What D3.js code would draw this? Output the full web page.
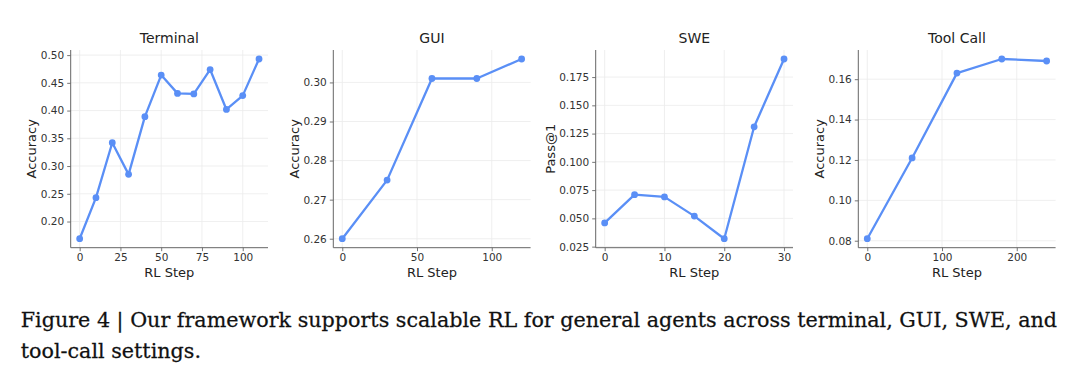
<!DOCTYPE html>
<html>
<head>
<meta charset="utf-8">
<script src="https://cdn.jsdelivr.net/npm/d3@7"></script>
<style>
  html, body { margin: 0; padding: 0; background: #ffffff; }
  svg { display: block; }
</style>
</head>
<body>
<svg id="chart" width="1080" height="374"></svg>
<script>
// ---------------- data ----------------
const panelTitles = ["Terminal", "GUI", "SWE", "Tool Call"];
const yLabels = ["Accuracy", "Accuracy", "Pass@1", "Accuracy"];
const xLabel = "RL Step";

const terminalSteps = [0, 10, 20, 30, 40, 50, 60, 70, 80, 90, 100, 110];
const terminalAcc = [0.169, 0.243, 0.342, 0.285, 0.389, 0.464, 0.431, 0.430, 0.474, 0.402, 0.427, 0.493];

const guiSteps = [0, 30, 60, 90, 120];
const guiAcc = [0.260, 0.275, 0.301, 0.301, 0.306];

const sweSteps = [0, 5, 10, 15, 20, 25, 30];
const swePass = [0.046, 0.071, 0.069, 0.052, 0.032, 0.131, 0.191];

const toolSteps = [0, 60, 120, 180, 240];
const toolAcc = [0.081, 0.121, 0.163, 0.170, 0.169];

const terminalXTicks = [0, 25, 50, 75, 100];
const terminalYTicks = [0.20, 0.25, 0.30, 0.35, 0.40, 0.45, 0.50];
const guiXTicks = [0, 50, 100];
const guiYTicks = [0.26, 0.27, 0.28, 0.29, 0.30];
const sweXTicks = [0, 10, 20, 30];
const sweYTicks = [0.025, 0.050, 0.075, 0.100, 0.125, 0.150, 0.175];
const toolXTicks = [0, 100, 200];
const toolYTicks = [0.08, 0.10, 0.12, 0.14, 0.16];

const captionLines = [
  "Figure 4 | Our framework supports scalable RL for general agents across terminal, GUI, SWE, and",
  "tool-call settings."
];

// ---------------- layout / style ----------------
const panels = [
  { xs: terminalSteps, ys: terminalAcc, xt: terminalXTicks, yt: terminalYTicks, yf: ".2f" },
  { xs: guiSteps, ys: guiAcc, xt: guiXTicks, yt: guiYTicks, yf: ".2f" },
  { xs: sweSteps, ys: swePass, xt: sweXTicks, yt: sweYTicks, yf: ".3f" },
  { xs: toolSteps, ys: toolAcc, xt: toolXTicks, yt: toolYTicks, yf: ".2f" }
];
const panelLefts = [70.7, 333.3, 595.7, 858.3];
const plotW = 197.3;
const plotTop = 50;
const plotBottom = 247.7;
const lineColor = "#5a8ff6";
const font = "DejaVu Sans, Verdana, sans-serif";

const svg = d3.select("#chart");

function padded(ext) {
  const d = ext[1] - ext[0];
  return [ext[0] - 0.05 * d, ext[1] + 0.05 * d];
}

panels.forEach((p, i) => {
  const left = panelLefts[i];
  const x = d3.scaleLinear().domain(padded(d3.extent(p.xs))).range([left, left + plotW]);
  const y = d3.scaleLinear().domain(padded(d3.extent(p.ys))).range([plotBottom, plotTop]);
  const g = svg.append("g");

  // grid
  g.append("g").selectAll("line.gx").data(p.xt).join("line")
    .attr("x1", d => x(d)).attr("x2", d => x(d))
    .attr("y1", plotTop).attr("y2", plotBottom)
    .attr("stroke", "#ebebeb").attr("stroke-width", 0.8);
  g.append("g").selectAll("line.gy").data(p.yt).join("line")
    .attr("x1", left).attr("x2", left + plotW)
    .attr("y1", d => y(d)).attr("y2", d => y(d))
    .attr("stroke", "#ebebeb").attr("stroke-width", 0.8);

  // axes
  const xAxis = d3.axisBottom(x).tickValues(p.xt).tickFormat(d3.format("d")).tickSizeInner(3.5).tickSizeOuter(0).tickPadding(2.5);
  const yAxis = d3.axisLeft(y).tickValues(p.yt).tickFormat(d3.format(p.yf)).tickSizeInner(3.5).tickSizeOuter(0).tickPadding(3);

  const gx = g.append("g").attr("transform", `translate(0,${plotBottom})`).call(xAxis);
  const gy = g.append("g").attr("transform", `translate(${left},0)`).call(yAxis);
  [gx, gy].forEach(ax => {
    ax.select(".domain").attr("stroke", "#666").attr("stroke-width", 1);
    ax.selectAll(".tick line").attr("stroke", "#666").attr("stroke-width", 0.9);
    ax.selectAll(".tick text").attr("fill", "#333").style("font-family", font).style("font-size", "10.5px");
  });
  // full-length spines
  gx.select(".domain").attr("d", `M${left},0H${left + plotW}`);
  gy.select(".domain").attr("d", `M0,${plotTop}V${plotBottom}`);

  // line + markers
  const pts = p.xs.map((v, k) => [v, p.ys[k]]);
  g.append("path").datum(pts)
    .attr("fill", "none").attr("stroke", lineColor).attr("stroke-width", 2.3)
    .attr("stroke-linejoin", "round")
    .attr("d", d3.line().x(d => x(d[0])).y(d => y(d[1])));
  g.append("g").selectAll("circle").data(pts).join("circle")
    .attr("cx", d => x(d[0])).attr("cy", d => y(d[1])).attr("r", 3.4)
    .attr("fill", lineColor);

  // title
  g.append("text").attr("x", left + plotW / 2).attr("y", 43.3)
    .attr("text-anchor", "middle").attr("fill", "#222")
    .style("font-family", font).style("font-size", "14px")
    .text(panelTitles[i]);

  // x label
  g.append("text").attr("x", left + plotW / 2).attr("y", 276.5)
    .attr("text-anchor", "middle").attr("fill", "#222")
    .style("font-family", font).style("font-size", "13px")
    .text(xLabel);

  // y label, placed left of tick labels
  let minX = Infinity;
  gy.selectAll(".tick text").each(function () {
    const b = this.getBBox();
    minX = Math.min(minX, left + b.x);
  });
  const ly = (plotTop + plotBottom) / 2;
  const lx = minX - 4.5;
  g.append("text").attr("transform", `translate(${lx},${ly}) rotate(-90)`)
    .attr("text-anchor", "middle").attr("fill", "#222")
    .style("font-family", font).style("font-size", "13px")
    .text(yLabels[i]);
});

// caption
const capG = svg.append("g");
const capTexts = captionLines.map((t, k) =>
  capG.append("text").attr("x", 0).attr("y", 0)
    .attr("transform", `translate(20.7,${327 + k * 31})`)
    .attr("fill", "#111").attr("stroke", "#111").attr("stroke-width", 0.25)
    .style("font-family", "DejaVu Serif, Liberation Serif, serif")
    .style("font-size", "21px")
    .text(t)
);
const w0 = capTexts[0].node().getComputedTextLength();
const sx = 1037 / w0;
capTexts.forEach((t, k) => t.attr("transform", `translate(20.7,${327 + k * 31}) scale(${sx},1)`));
</script>
</body>
</html>
